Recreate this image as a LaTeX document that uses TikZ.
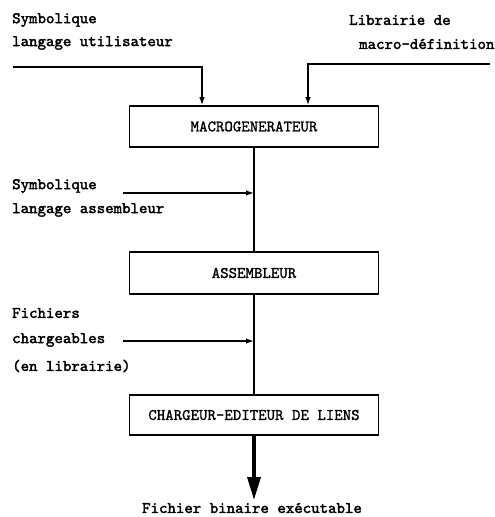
\documentclass[tikz,border=0pt]{standalone}
\usepackage{fontspec}
\newfontfamily\twlabel{lmmono10-regular.otf}[FakeBold=2.2]
\newfontfamily\twbox{lmmono10-regular.otf}[FakeBold=1.2]
\usetikzlibrary{arrows.meta}
\begin{document}
\begin{tikzpicture}[x=1pt,y=-1pt,
  every node/.style={font=\twbox\fontsize{16.1}{18}\selectfont, inner sep=0pt},
  label/.style={anchor=west, font=\twlabel\fontsize{16.1}{18}\selectfont},
  stage/.style={draw, line width=1.7pt, minimum width=249pt, minimum height=41pt},
  feed/.style={line width=1.3pt, -{Latex[length=8pt,width=5.5pt]}},
  flow/.style={line width=2.2pt},
  outflow/.style={line width=3.3pt, -{Triangle[length=23pt,width=13pt]}}]
\useasboundingbox (0,0) rectangle (495,517);

% processing stages
\node[stage] (macro) at (254,126.5) {MACROGENERATEUR};
\node[stage, minimum height=42pt] (asm) at (254,273) {ASSEMBLEUR};
\node[stage, minimum height=40pt] (link) at (254,415) {CHARGEUR-EDITEUR DE LIENS};

% inputs of the macro generator
\node[label] (symu1) at (12,20) {Symbolique};
\node[label] (symu2) at (12,43) {langage utilisateur};
\node[label] (lib1) at (349,20) {Librairie de};
\node[label] (lib2) at (359,44) {macro-définition};
\coordinate (uin) at (13,67);
\coordinate (uturn) at (202,67);
\coordinate (lin) at (490,64);
\coordinate (lturn) at (308,64);
\draw[feed] (uin) -- (uturn) -- (uturn |- macro.north);
\draw[feed] (lin) -- (lturn) -- (lturn |- macro.north);

% macro generator to assembler
\draw[flow] (macro.south) -- (asm.north);
\node[label] (syma1) at (12,186) {Symbolique};
\node[label] (syma2) at (12,210) {langage assembleur};
\coordinate (ain) at (123,193);
\draw[feed] (ain) -- (ain -| macro.south);

% assembler to linker
\draw[flow] (asm.south) -- (link.north);
\node[label] (fic1) at (12,313) {Fichiers};
\node[label] (fic2) at (12,340) {chargeables};
\node[label] (fic3) at (12,366) {(en librairie)};
\coordinate (fin) at (123,341);
\draw[feed] (fin) -- (fin -| asm.south);

% executable output
\node[label, anchor=center] (bin) at (252,508) {Fichier binaire exécutable};
\coordinate (tip) at (254,500);
\draw[outflow] (link.south) -- (tip);
\end{tikzpicture}
\end{document}
